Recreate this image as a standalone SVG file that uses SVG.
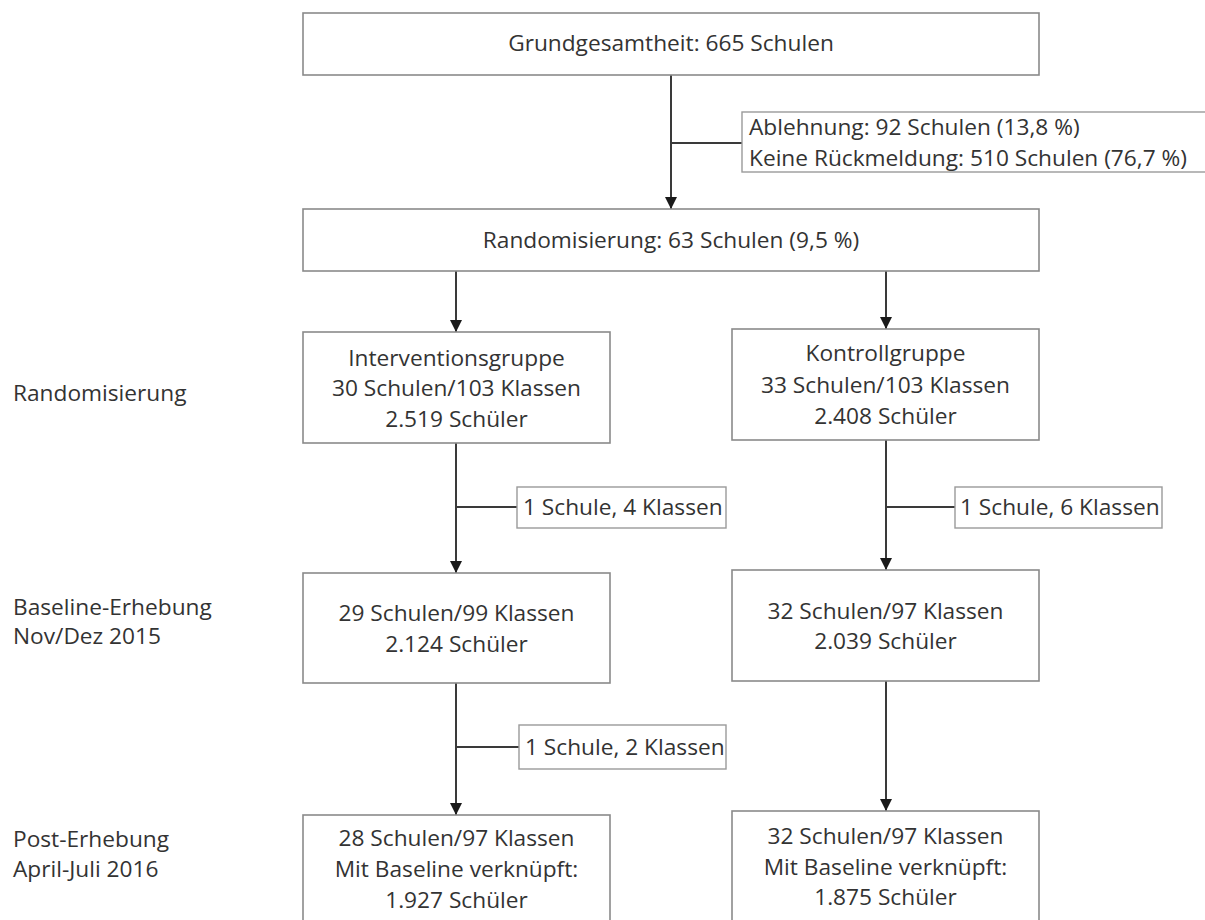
<svg xmlns="http://www.w3.org/2000/svg" width="1205" height="920" viewBox="0 0 1205 920">
<style>
  .box { fill: #ffffff; stroke: #8a8a8a; stroke-width: 1.6; }
  .note { fill: #ffffff; stroke: #9a9a9a; stroke-width: 1.4; }
  .t { font-family: "Open Sans", "DejaVu Sans", sans-serif; font-size: 22.7px; fill: #333333; }
  .c { text-anchor: middle; }
  .conn { stroke: #3a3a3a; stroke-width: 2; fill: none; }
</style>
<defs>
  <marker id="ah" viewBox="0 0 12 12" refX="12" refY="6" markerWidth="12" markerHeight="12" markerUnits="userSpaceOnUse" orient="auto">
    <path d="M0,0 L12,6 L0,12 z" fill="#1a1a1a"/>
  </marker>
</defs>
<rect x="0" y="0" width="1205" height="920" fill="#ffffff"/>

<g id="connectors">
  <line class="conn" x1="671" y1="75" x2="671" y2="209" marker-end="url(#ah)"/>
  <line class="conn" x1="671" y1="143" x2="742" y2="143"/>
  <line class="conn" x1="456" y1="271" x2="456" y2="332" marker-end="url(#ah)"/>
  <line class="conn" x1="886" y1="271" x2="886" y2="329" marker-end="url(#ah)"/>
  <line class="conn" x1="456" y1="443" x2="456" y2="573" marker-end="url(#ah)"/>
  <line class="conn" x1="456" y1="507" x2="517" y2="507"/>
  <line class="conn" x1="886" y1="440" x2="886" y2="570" marker-end="url(#ah)"/>
  <line class="conn" x1="886" y1="507" x2="955" y2="507"/>
  <line class="conn" x1="456" y1="683" x2="456" y2="815" marker-end="url(#ah)"/>
  <line class="conn" x1="456" y1="747" x2="519" y2="747"/>
  <line class="conn" x1="886" y1="681" x2="886" y2="811" marker-end="url(#ah)"/>
</g>

<g id="grundgesamtheit">
  <rect class="box" x="303" y="13" width="736" height="62"/>
  <text class="t c" x="671" y="51">Grundgesamtheit: 665 Schulen</text>
</g>

<g id="ausfall">
  <rect class="note" x="742" y="112" width="480" height="60"/>
  <text class="t" x="749" y="135">Ablehnung: 92 Schulen (13,8 %)</text>
  <text class="t" x="749" y="166">Keine Rückmeldung: 510 Schulen (76,7 %)</text>
</g>

<g id="randomisierung">
  <rect class="box" x="303" y="209" width="736" height="62"/>
  <text class="t c" x="671" y="248">Randomisierung: 63 Schulen (9,5 %)</text>
</g>

<g id="interventionsgruppe">
  <rect class="box" x="303" y="332" width="307" height="111"/>
  <text class="t c" x="456.5" y="366">Interventionsgruppe</text>
  <text class="t c" x="456.5" y="396">30 Schulen/103 Klassen</text>
  <text class="t c" x="456.5" y="427">2.519 Schüler</text>
</g>

<g id="kontrollgruppe">
  <rect class="box" x="732" y="329" width="307" height="111"/>
  <text class="t c" x="885.5" y="361">Kontrollgruppe</text>
  <text class="t c" x="885.5" y="393">33 Schulen/103 Klassen</text>
  <text class="t c" x="885.5" y="424">2.408 Schüler</text>
</g>

<g id="ausfall-ig1">
  <rect class="note" x="517" y="487" width="209" height="41"/>
  <text class="t" x="523" y="515">1 Schule, 4 Klassen</text>
</g>

<g id="ausfall-kg1">
  <rect class="note" x="955" y="487" width="207" height="41"/>
  <text class="t" x="960" y="515">1 Schule, 6 Klassen</text>
</g>

<g id="baseline-ig">
  <rect class="box" x="303" y="573" width="307" height="110"/>
  <text class="t c" x="456.5" y="621">29 Schulen/99 Klassen</text>
  <text class="t c" x="456.5" y="652">2.124 Schüler</text>
</g>

<g id="baseline-kg">
  <rect class="box" x="732" y="570" width="307" height="111"/>
  <text class="t c" x="885.5" y="619">32 Schulen/97 Klassen</text>
  <text class="t c" x="885.5" y="649">2.039 Schüler</text>
</g>

<g id="ausfall-ig2">
  <rect class="note" x="519" y="725" width="207" height="44"/>
  <text class="t" x="525" y="755">1 Schule, 2 Klassen</text>
</g>

<g id="post-ig">
  <rect class="box" x="303" y="815" width="307" height="115"/>
  <text class="t c" x="456.5" y="846">28 Schulen/97 Klassen</text>
  <text class="t c" x="456.5" y="877">Mit Baseline verknüpft:</text>
  <text class="t c" x="456.5" y="908">1.927 Schüler</text>
</g>

<g id="post-kg">
  <rect class="box" x="732" y="811" width="307" height="119"/>
  <text class="t c" x="885.5" y="844">32 Schulen/97 Klassen</text>
  <text class="t c" x="885.5" y="875">Mit Baseline verknüpft:</text>
  <text class="t c" x="885.5" y="905">1.875 Schüler</text>
</g>

<g id="phase-labels">
  <text class="t" x="13" y="401">Randomisierung</text>
  <text class="t" x="13" y="615">Baseline-Erhebung</text>
  <text class="t" x="13" y="644">Nov/Dez 2015</text>
  <text class="t" x="13" y="847">Post-Erhebung</text>
  <text class="t" x="13" y="877">April-Juli 2016</text>
</g>
</svg>
